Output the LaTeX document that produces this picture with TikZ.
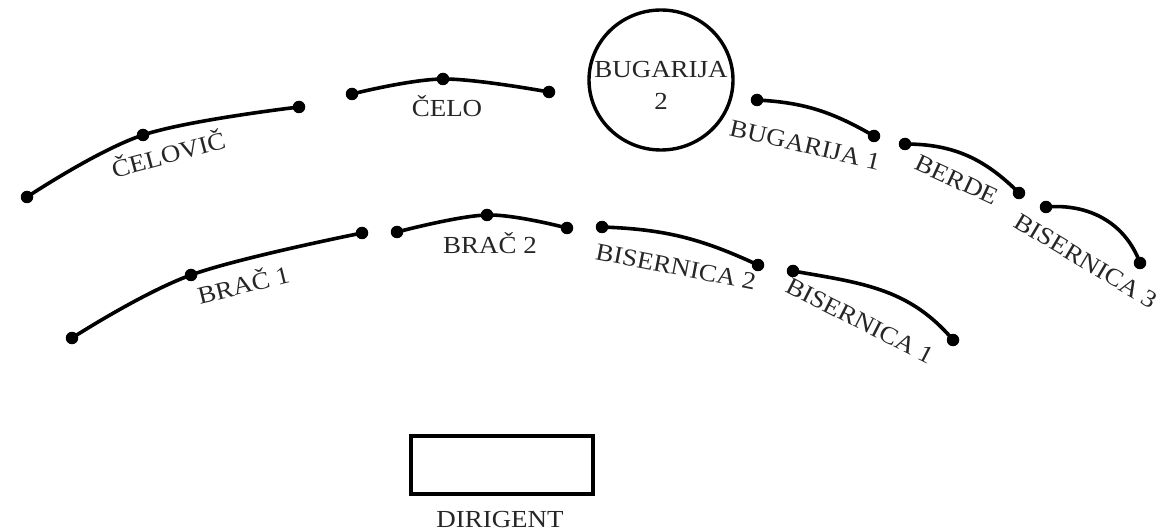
\documentclass[tikz,border=0pt]{standalone}
\usepackage{fontspec}
\setmainfont[FakeStretch=1.1]{Liberation Serif}
\begin{document}
\begin{tikzpicture}[x=1pt,y=1pt,
  arc/.style={line width=3.6pt,line cap=round},
  dot/.style={circle,fill=black,inner sep=0pt,minimum size=12.5pt},
  lbl/.style={font=\fontsize{24.5}{27}\selectfont,text=black!85,inner sep=0pt}]
\useasboundingbox (0,0) rectangle (1168,531);
% --- back row, left
\node[dot] (c1) at (27,334) {};
\node[dot] (c2) at (143,396) {};
\node[dot] (c3) at (299,424) {};
\draw[arc] plot[smooth,tension=0.6] coordinates {(27,334) (143,396) (299,424)};
\node[lbl,rotate=15] (lc) at (168,378) {ČELOVIČ};
\node[dot] (e1) at (352,437) {};
\node[dot] (e2) at (443,452) {};
\node[dot] (e3) at (549,439) {};
\draw[arc] plot[smooth,tension=0.6] coordinates {(352,437) (443,452) (549,439)};
\node[lbl] (le) at (447,425) {ČELO};
% --- circle
\draw[line width=3.4pt] (661,451) ellipse [x radius=72, y radius=70];
\node[lbl,align=center] (lb2) at (661,446) {BUGARIJA\\[5pt]2};
% --- back row, right
\node[dot] (b1a) at (757,431) {};
\node[dot] (b1b) at (874,395) {};
\draw[arc] (b1a.center) to[out=-3,in=150] (b1b.center);
\node[lbl,rotate=-13] (lb1) at (805,386) {BUGARIJA 1};
\node[dot] (ba) at (905,387) {};
\node[dot] (bb) at (1019,338) {};
\draw[arc] (ba.center) to[out=0,in=135] (bb.center);
\node[lbl,rotate=-25] (lbe) at (957,351) {BERDE};
\node[dot] (s3a) at (1046,324) {};
\node[dot] (s3b) at (1140,268) {};
\draw[arc] (s3a.center) to[out=5,in=110] (s3b.center);
\node[lbl,rotate=-31] (ls3) at (1086,270) {BISERNICA 3};
% --- front row
\node[dot] (r1) at (72,193) {};
\node[dot] (r2) at (191,256) {};
\node[dot] (r3) at (362,298) {};
\draw[arc] plot[smooth,tension=0.6] coordinates {(72,193) (191,256) (362,298)};
\node[lbl,rotate=14] (lr1) at (243,248) {BRAČ 1};
\node[dot] (q1) at (397,299) {};
\node[dot] (q2) at (487,316) {};
\node[dot] (q3) at (567,303) {};
\draw[arc] plot[smooth,tension=0.6] coordinates {(397,299) (487,316) (567,303)};
\node[lbl] (lr2) at (490,288) {BRAČ 2};
\node[dot] (s2a) at (602,304) {};
\node[dot] (s2b) at (758,266) {};
\draw[arc] (s2a.center) to[out=-2,in=155] (s2b.center);
\node[lbl,rotate=-11] (ls2) at (676,264) {BISERNICA 2};
\node[dot] (s1a) at (793,260) {};
\node[dot] (s1b) at (953,191) {};
\draw[arc] (s1a.center) to[out=-10,in=130] (s1b.center);
\node[lbl,rotate=-27] (ls1) at (860,210) {BISERNICA 1};
% --- conductor
\node[draw,line width=3.6pt,minimum width=182pt,minimum height=58pt,inner sep=0pt] (dir) at (502,66) {};
\node[lbl] (ld) at (500,11) {DIRIGENT};
\end{tikzpicture}
\end{document}
